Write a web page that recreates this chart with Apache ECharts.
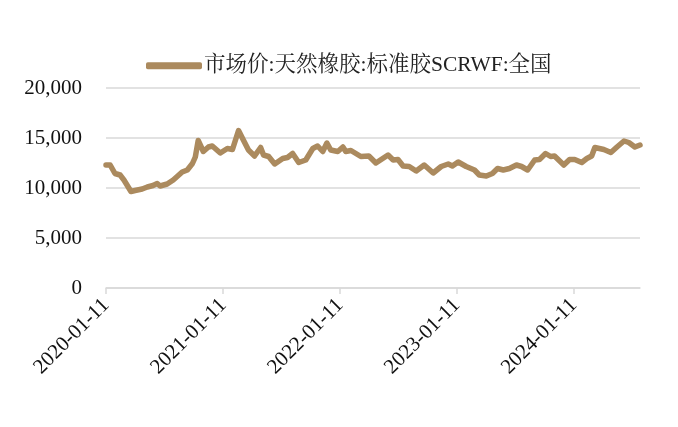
<!DOCTYPE html>
<html>
<head>
<meta charset="utf-8">
<script src="https://cdn.jsdelivr.net/npm/echarts@6/dist/echarts.min.js"></script>
<style>
    html, body { margin: 0; padding: 0; background: #fff; }
    .topline { position: absolute; left: 3px; right: 0; top: 5px; height: 3px; background: #9c6b3f; }
    .EC { width: 678px; height: 427px; }
</style>
</head>
<body>
<div class="topline"></div>
<div class="EC"></div>
<script>
const seriesName = '市场价:天然橡胶:标准胶SCRWF:全国'

// Dates and prices (yuan/ton)
const dates = [
    '2020-01-11', '2020-01-24', '2020-02-08', '2020-02-24', '2020-03-07', '2020-03-29',
    '2020-04-11', '2020-05-03', '2020-05-19', '2020-06-06', '2020-06-19', '2020-06-28',
    '2020-07-20', '2020-08-08', '2020-09-05', '2020-09-21', '2020-10-07', '2020-10-16',
    '2020-10-25', '2020-11-10', '2020-11-26', '2020-12-08', '2021-01-02', '2021-01-24',
    '2021-02-09', '2021-02-28', '2021-03-15', '2021-03-31', '2021-04-19', '2021-05-08',
    '2021-05-17', '2021-06-02', '2021-06-21', '2021-07-16', '2021-07-31', '2021-08-16',
    '2021-09-04', '2021-09-26', '2021-10-18', '2021-11-02', '2021-11-18', '2021-12-01',
    '2021-12-13', '2022-01-04', '2022-01-20', '2022-01-29', '2022-02-14', '2022-03-17',
    '2022-04-11', '2022-05-03', '2022-06-10', '2022-06-26', '2022-07-11', '2022-07-27',
    '2022-08-15', '2022-09-06', '2022-10-01', '2022-10-29', '2022-11-23', '2022-12-15',
    '2022-12-28', '2023-01-15', '2023-02-09', '2023-03-07', '2023-03-22', '2023-04-13',
    '2023-05-02', '2023-05-18', '2023-06-05', '2023-06-24', '2023-07-16', '2023-08-01',
    '2023-08-20', '2023-09-11', '2023-09-26', '2023-10-15', '2023-10-31', '2023-11-12',
    '2023-12-11', '2023-12-29', '2024-01-14', '2024-02-05', '2024-02-21', '2024-03-07',
    '2024-03-17', '2024-04-14', '2024-05-06', '2024-05-25', '2024-06-16', '2024-07-01',
    '2024-07-20', '2024-08-05'
]
const prices = [
    12300, 12300, 11450, 11300, 10800, 9650,
    9750, 9900, 10100, 10250, 10450, 10200,
    10400, 10800, 11600, 11800, 12450, 13100,
    14750, 13650, 14100, 14200, 13500, 13950,
    13850, 15750, 14800, 13800, 13200, 14050,
    13300, 13150, 12400, 12950, 13050, 13450,
    12550, 12800, 13950, 14200, 13650, 14500,
    13800, 13650, 14100, 13650, 13750, 13150,
    13200, 12500, 13300, 12800, 12850, 12200,
    12150, 11700, 12300, 11500, 12150, 12400,
    12200, 12600, 12150, 11800, 11300, 11200,
    11450, 11950, 11800, 11950, 12300, 12150,
    11800, 12800, 12850, 13450, 13150, 13200,
    12300, 12850, 12850, 12550, 12950, 13200,
    14050, 13850, 13550, 14100, 14700, 14550,
    14100, 14300
]
const tickDates = ['2020-01-11', '2021-01-11', '2022-01-11', '2023-01-11', '2024-01-11']
const yTicks = [0, 5000, 10000, 15000, 20000]

window.onload = () => {
    let EC = echarts.init(document.querySelector('.EC'))
    let toTime = s => echarts.number.parseDate(s).getTime()
    let font = '"Liberation Serif", "Times New Roman", "Noto Serif CJK SC", "Noto Sans CJK SC", serif'
    let tickTimes = tickDates.map(toTime)

    let option = {
        backgroundColor: '#fff',
        animation: false,
        textStyle: { fontFamily: font },
        legend: {
            top: 50,
            left: 141,
            icon: 'roundRect',
            itemWidth: 56,
            itemHeight: 7,
            itemGap: 10,
            itemStyle: { color: '#ab8a5e', borderWidth: 0 },
            textStyle: { fontSize: 21.5, color: '#222', fontFamily: font, padding: [0, 0, 0, -3] }
        },
        grid: {
            left: 106,
            right: 38,
            top: 88,
            bottom: 139,
            containLabel: false
        },
        // time kept as a numeric axis so the year ticks can sit on the exact dates
        xAxis: {
            type: 'value',
            min: toTime(dates[0]),
            max: toTime(dates[dates.length - 1]),
            axisLine: { lineStyle: { color: '#d9d9d9', width: 1.5 } },
            axisTick: {
                show: true,
                length: 6,
                customValues: tickTimes,
                lineStyle: { color: '#d9d9d9', width: 1.5 }
            },
            axisLabel: {
                customValues: tickTimes,
                rotate: 45,
                fontSize: 21,
                color: '#111',
                fontFamily: font,
                margin: 14,
                formatter: v => tickDates[tickTimes.indexOf(v)] || ''
            },
            splitLine: { show: false }
        },
        yAxis: {
            type: 'value',
            min: yTicks[0],
            max: yTicks[yTicks.length - 1],
            interval: yTicks[1] - yTicks[0],
            axisLine: { show: false },
            axisTick: { show: false },
            axisLabel: {
                fontSize: 21,
                color: '#111',
                fontFamily: font,
                margin: 24,
                formatter: v => v.toLocaleString('en-US')
            },
            splitLine: { lineStyle: { color: '#d9d9d9', width: 1.5 } }
        },
        series: [{
            name: seriesName,
            type: 'line',
            showSymbol: false,
            symbol: 'none',
            smooth: false,
            lineStyle: { color: '#ab8a5e', width: 5.5, cap: 'round', join: 'round' },
            itemStyle: { color: '#ab8a5e' },
            data: dates.map((d, i) => [toTime(d), prices[i]])
        }]
    }
    EC.setOption(option)
}
</script>
</body>
</html>
